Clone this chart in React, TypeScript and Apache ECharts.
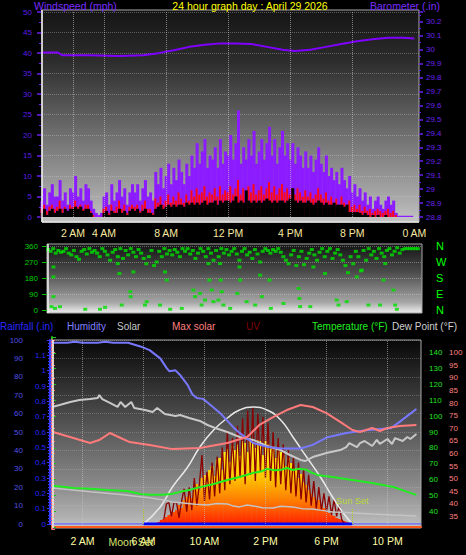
import React, { useEffect, useRef } from 'react';
import * as echarts from 'echarts';

const FONT = '"Liberation Sans", Arial, sans-serif';

// ---- time tick labels ----
const topTimeTicks = [2, 4, 8, 12, 16, 20, 24];
const bottomTimeTicks = [2, 6, 10, 14, 18, 22];

// ---- top panel: wind (mph), one value every 10 minutes from 0:00 ----
const windGust = [
  4, 7, 3, 6, 8, 5, 5, 9, 4, 6, 3, 7, 6, 10, 5, 7, 4, 8, 7, 4, 2, 1, 0.5, 1,
  5, 6, 3, 8, 4, 6, 9, 5, 7, 3, 6, 8, 6, 8, 4, 7, 9, 5, 6, 4, 11, 8, 12, 7,
  10, 13, 8, 12, 9, 14, 11, 8, 13, 10, 15, 12, 18, 13, 16, 19, 12, 15, 14, 17, 12, 19, 13, 16,
  15, 20, 14, 18, 26, 13, 17, 14, 19, 15, 21, 13, 16, 19, 14, 18, 22, 15, 19, 13, 17, 21, 15, 18,
  14, 18, 13, 17, 15, 12, 16, 12, 15, 11, 14, 17, 13, 11, 15, 10, 12, 9, 11, 8, 12, 9, 7, 10,
  6, 8, 5, 7, 4, 6, 3, 5, 2, 4, 5, 3, 2, 4, 5, 3, 4, 1, 0.3, 0.3, 0.3, 0.3, 0.3, 0.3,
];
const windSpeed = [
  2, 3, 1.5, 2.5, 3, 2, 2.5, 4, 2, 2.5, 1.5, 3, 2.5, 4, 2.5, 3, 2, 3, 3, 1.5, 0.5, 0, 0, 0,
  2, 2.5, 1, 3, 1.5, 2.5, 4, 2, 3, 1, 2.5, 3, 2.5, 3, 1.5, 3, 4, 2, 2, 1, 4.5, 3.5, 5, 3,
  4, 5.5, 3.5, 5, 4, 6, 4.5, 3.5, 5.5, 4, 6.5, 5, 7, 5.5, 6, 7.5, 5, 6, 5.5, 7, 5, 7.5, 5.5, 6.5,
  6, 7.5, 5.5, 7, 9, 5.5, 7, 5.5, 7.5, 6, 8, 5.5, 6.5, 7.5, 5.5, 7, 8.5, 6, 7.5, 5.5, 7, 8, 6, 7,
  5.5, 7, 5.5, 7, 6, 5, 6.5, 5, 6, 4.5, 5.5, 7, 5.5, 4.5, 6, 4, 5, 3.5, 4.5, 3, 5, 3.5, 3, 4,
  2.5, 3, 2, 3, 1.5, 2.5, 1.5, 2, 1, 1.5, 2, 1.5, 1, 1.5, 2, 1, 1.5, 0.5, 0, 0, 0, 0, 0, 0,
];
const windAvg = [
  1, 2, 0.5, 1.5, 2, 1, 1.5, 2, 1, 2, 1.5, 2, 2, 2.5, 2, 2.5, 1.5, 2, 2, 1, 0, 0, 0, 0,
  1, 1.5, 0.5, 1.5, 1, 1, 2, 1, 1.5, 0.5, 1.5, 2, 1.5, 2, 1, 1.5, 2, 1, 1, 0.5, 2, 2.5, 3, 2,
  2.5, 3, 2.5, 3, 2.5, 3, 3, 2.5, 3.5, 3, 3.5, 3, 3.5, 3, 3.5, 4, 3, 3.5, 3.5, 4, 3, 4, 3.5, 4,
  4, 3.5, 4, 5, 3.5, 4, 3.5, 6.5, 4, 3.5, 4, 3.5, 4, 3.5, 4, 4.5, 4, 3.5, 4, 3.5, 4, 4, 3.5, 4,
  4.5, 7, 4, 3.5, 4, 3.5, 3.5, 4, 3.5, 3, 3.5, 4, 3.5, 3, 3.5, 3, 3, 3.5, 3, 3, 3, 2.5, 3, 1.2,
  1.2, 1.2, 1.2, 1, 0.5, 1, 0.5, 0, 0.5, 0, 0.5, 0, 0, 0.5, 0, 0, 0, 0, 0, 0, 0, 0, 0, 0,
];
// barometer (in) [hour, value]
const barometer = [
  [0, 29.98], [1, 29.98], [1.3, 29.96], [3, 29.96], [5, 29.955], [6.5, 29.96], [7.5, 29.975],
  [8.5, 29.995], [9.5, 30.02], [10.5, 30.035], [11.5, 30.045], [12.5, 30.045], [13.5, 30.04],
  [14.5, 30.02], [15.5, 30.0], [16.3, 29.99], [17.3, 30.0], [18.3, 30.02], [19.3, 30.04],
  [20.3, 30.06], [21.3, 30.075], [22.3, 30.085], [23.3, 30.085], [24, 30.08],
];

// ---- middle panel: wind direction (deg), main band every 10 min + scattered readings ----
const windDirBand = [
  340, 330, 345, 320, 335, 325, 330, 345, 320, 310, 335, 300, 285, 330, 340, 315, 345, 325,
  335, 320, 300, 345, 330, 310, 280, 325, 340, 300, 345, 290, 335, 310, 345, 325, 300, 340,
  320, 290, 260, 300, 335, 250, 270, 330, 300, 345, 315, 335, 310, 340, 325, 300, 345, 330,
  345, 315, 335, 290, 320, 345, 330, 300, 345, 320, 280, 335, 300, 345, 320, 340, 310, 330,
  345, 315, 280, 330, 345, 310, 325, 290, 340, 315, 270, 330, 345, 335, 320, 340, 330, 345,
  325, 300, 280, 260, 310, 335, 250, 300, 330, 255, 290, 320, 340, 310, 280, 325, 345, 300,
  330, 345, 290, 320, 340, 310, 280, 250, 210, 300, 260, 330, 300, 220, 335, 280, 345, 310,
  330, 290, 345, 320, 300, 335, 345, 310, 330, 350, 320, 340, 345, 345, 345, 345, 345, 345,
];
const windDirScatter = [
  [0.23, 19], [0.35, 75], [0.35, 186], [0.35, 242], [0.45, 9], [0.77, 19], [2.4, 4], [3.35, 4],
  [3.68, 15], [4.5, 261], [4.6, 205], [4.75, 28], [5.3, 103], [5.33, 75], [5.5, 214], [6.25, 28],
  [6.36, 47], [7.22, 28], [7.54, 214], [7.65, 168], [7.87, 4], [8.62, 9], [9.37, 112], [9.48, 75],
  [9.8, 93], [9.9, 28], [10.12, 56], [10.34, 261], [10.4, 168], [10.55, 112], [10.66, 47],
  [10.98, 56], [11.09, 261], [11.13, 168], [11.2, 103], [11.3, 28], [11.74, 9], [12.2, 93],
  [12.34, 242], [12.38, 168], [12.8, 47], [13.35, 28], [13.67, 196], [13.78, 75], [14.27, 168],
  [14.36, 9], [15.17, 37], [16.15, 121], [16.2, 65], [16.25, 19], [16.9, 19], [17.1, 242],
  [17.85, 205], [18.6, 56], [18.72, 28], [19.25, 47], [19.9, 186], [20.22, 224], [20.65, 28],
  [21.4, 28], [21.62, 168], [21.73, 261], [22.26, 112], [22.37, 28], [22.48, 4],
];

// ---- bottom panel ----
const humidity = [
  [0, 98.5], [1, 98.5], [1.5, 99], [2, 98.5], [3, 98.5], [3.5, 99], [4, 98.5], [5, 98.5], [5.2, 98],
  [5.8, 96.5], [6.4, 94.5], [7.1, 90], [7.5, 85], [7.7, 83], [8.1, 83.5], [8.4, 81], [8.9, 75.5],
  [9.2, 70.5], [9.5, 68.5], [9.9, 68], [10.2, 66], [11.0, 60.5], [11.9, 52.5], [12.3, 49.5],
  [13.2, 44], [14.1, 42], [15.0, 41], [16.3, 41], [17.1, 43], [18.0, 47], [19.3, 49.5],
  [20.6, 51], [22.2, 52], [22.8, 55.5], [23.5, 60], [23.9, 62.5],
];
const indoorHumidity = [
  [0, 63.6], [0.5, 64.7], [1.2, 66.3], [1.8, 67.4], [2.5, 67.9], [3.0, 68.5], [3.1, 70.1], [3.3, 67.9],
  [3.8, 65.8], [4.3, 63.6], [4.5, 66.3], [4.8, 63.6], [5.2, 66.3], [5.4, 63], [6.1, 62], [6.6, 60.9],
  [6.9, 63], [7.4, 59.8], [8.1, 58.7], [8.4, 59.2], [9.0, 57.6], [9.7, 56], [10.2, 53.8], [10.7, 52.2],
  [11.5, 50], [12.3, 47.3], [13.2, 45.7], [14.1, 42.4], [15.0, 40.2], [15.6, 37.5], [16.3, 34.8],
  [16.6, 34.2], [17.1, 36.4], [18.0, 38.6], [18.9, 40.2], [19.3, 41.8], [19.5, 44], [20.0, 41.8],
  [20.2, 44], [20.5, 45.1], [21.0, 42.4], [21.3, 45.7], [21.5, 43.5], [22.0, 46.2], [22.3, 43.5],
  [22.5, 46.7], [23.0, 45.1], [23.3, 47.3], [23.5, 46.2], [23.9, 48.9],
];
const indoorTemp = [
  [0.07, 68.5], [1.4, 66.1], [2.5, 64.1], [3.1, 65.3], [3.8, 68.1], [4.5, 66.1], [5.1, 64.5],
  [6.4, 63.3], [7.9, 61.7], [9.7, 62.1], [11.5, 64.1], [12.8, 66.5], [13.6, 71.3], [14.5, 74.4],
  [15.4, 77.2], [16.3, 79.2], [17.1, 78.4], [18.0, 76.0], [18.9, 72.5], [19.7, 69.3], [20.2, 68.5],
  [21.0, 70.1], [21.5, 68.9], [22.0, 70.1], [22.8, 70.9], [23.9, 71.3],
];
const temperature = [
  [0, 56.0], [0.7, 55.4], [1.4, 54.7], [2.5, 54.1], [3.6, 53.4], [4.9, 52.8], [5.8, 50.9], [6.4, 50.3],
  [7.3, 50.3], [7.9, 51.0], [8.4, 52.2], [9.0, 53.4], [9.5, 54.7], [10.1, 56.0], [10.6, 57.2],
  [11.1, 58.6], [11.5, 59.7], [12.3, 61.6], [12.8, 63.0], [13.2, 64.2], [13.7, 65.0], [14.1, 66.7],
  [14.6, 65.8], [15.0, 66.1], [15.4, 67.3], [15.8, 66.0], [16.2, 66.8], [16.7, 66.1], [17.0, 64.5],
  [17.4, 62.9], [18.4, 61.6], [19.7, 59.7], [21.0, 57.8], [22.4, 55.3], [23.3, 52.2], [23.9, 50.3],
];
const dewPoint = [
  [0, 54.7], [1.2, 53.5], [2.5, 52.2], [3.6, 51.3], [4.7, 50.3], [5.6, 49.3], [6.4, 48.4], [7.2, 47.2],
  [7.9, 45.8], [8.6, 45.1], [9.4, 44.3], [10.2, 43.9], [10.8, 44.9], [11.5, 44.6], [11.9, 43.2],
  [12.3, 42.7], [12.8, 43.9], [13.2, 43.3], [13.8, 42.2], [14.5, 42.0], [15.0, 43.1], [15.8, 42.7],
  [16.4, 41.6], [17.1, 41.4], [17.7, 40.5], [18.4, 39.5], [19.0, 39.3], [19.7, 38.9], [21.0, 38.2],
  [22.4, 37.6], [23.9, 37.0],
];
const maxSolar = [
  [6.0, 0], [7.1, 139], [7.9, 302], [8.9, 465], [9.7, 628], [10.6, 766], [11.5, 864], [12.3, 929],
  [13.2, 954], [14.1, 929], [15.0, 848], [15.8, 709], [16.7, 546], [17.6, 383], [18.4, 220],
  [19.1, 90], [19.7, 0],
];
// solar (W/m2) every 10 min from 7:00
const solarStart = 7;
const solar = [
  16, 33, 41, 57, 73, 81, 98, 114, 155, 130, 196, 220, 253, 212, 293, 326, 277, 375,
  399, 342, 440, 473, 391, 522, 538, 440, 587, 611, 505, 636, 603, 652, 554, 676, 660, 587,
  685, 668, 619, 685, 676, 562, 676, 652, 611, 636, 538, 619, 587, 562, 473, 538, 497, 440,
  456, 375, 408, 342, 318, 277, 245, 220, 179, 196, 147, 130, 106, 90, 73, 65, 49, 41,
  33, 24, 16,
];
// UV index every 10 min from 7:20
const uvStart = 7 + 20 / 60;
const uv = [
  0.3, 1.3, 1.4, 0.5, 1.4, 1.4, 0.4, 1.5, 2.3, 0.8, 2.4, 0.9, 3.0, 1.2, 2.6, 4.5,
  1.5, 3.4, 1.6, 4.0, 1.8, 4.4, 2.0, 5.0, 2.2, 6.1, 2.6, 5.6, 2.8, 6.4, 3.0, 6.9, 2.6, 7.4,
  3.2, 7.6, 2.8, 7.2, 3.4, 7.0, 3.0, 6.6, 2.8, 6.0, 2.4, 5.6, 2.6, 5.2, 2.2, 4.8, 2.0, 4.4,
  1.8, 4.0, 1.6, 3.6, 1.4, 3.2, 1.2, 2.8, 1.0, 2.4, 0.9, 2.0, 0.8, 1.8, 0.6, 1.6, 0.5, 1.2,
  0.3, 0,
];
const rainfall = [[0, 0], [24.2, 0]];
const sunrise = 6.0;
const sunset = 19.7;

const hourLabel = (h: number) => {
  const hh = ((Math.round(h) % 24) + 24) % 24;
  const suffix = hh < 12 ? 'AM' : 'PM';
  const d = hh === 12 ? 12 : hh % 12;
  return d + ' ' + suffix;
};
const fmt1 = (v: number) => String(Number(v.toFixed(1)));

const grad = (stops: [number, string][]) => ({
  type: 'linear', x: 0, y: 0, x2: 0, y2: 1,
  colorStops: stops.map(([offset, color]) => ({ offset, color })),
});

const txt = (text: string, x: number, y: number, fill: string, size: number, align = 'left') => ({
  type: 'text', x, y, z: 100, silent: true,
  style: { text, fill, fontSize: size, fontFamily: FONT, textAlign: align, verticalAlign: 'middle' },
});

export default function App() {
  const ref = useRef<HTMLDivElement>(null);
  useEffect(() => {
    document.body.style.margin = '0';
    document.body.style.background = '#000';
    const chart = echarts.init(ref.current!, null, { renderer: 'svg' });

    const timeAxis = (gridIndex: number, max: number, ticks: number[] | null, color = '', margin = 0) => ({
      type: 'value', gridIndex, min: 0, max, interval: 2,
      axisLine: { show: false }, axisTick: { show: false }, splitLine: { show: false },
      axisLabel: ticks
        ? { show: true, color, fontSize: 10.5, fontFamily: FONT, margin,
            formatter: (v: number) => (ticks.includes(v) ? hourLabel(v) : '') }
        : { show: false },
    });

    const dotted = (c: string) => ({ show: true, lineStyle: { color: c, type: 'dotted', width: 1 } });

    const option: any = {
      animation: false,
      backgroundColor: '#000',
      textStyle: { fontFamily: FONT },
      grid: [
        { left: 42, top: 12, width: 377, height: 205 },
        { left: 48, top: 246, width: 374, height: 64 },
        { left: 52, top: 340, width: 369, height: 184 },
        { left: 52, top: 337, width: 369, height: 190 },
        { left: 52, top: 340, width: 369, height: 189 },
      ],
      xAxis: [
        timeAxis(0, 24.3, topTimeTicks, '#f8e8a0', 10),
        timeAxis(1, 24.1, null),
        timeAxis(2, 24.2, null),
        { ...timeAxis(3, 24.2, bottomTimeTicks, '#ffffa8', 8),
          axisLine: { show: true, lineStyle: { color: '#ff5a1e', width: 2 } } },
        timeAxis(4, 24.2, null),
      ],
      yAxis: [
        { type: 'value', gridIndex: 0, position: 'left', min: 0, max: 50, interval: 5,
          axisLine: { show: false },
          axisTick: { show: true, length: 5, lineStyle: { color: '#6a20f0', width: 1.5 } },
          minorTick: { show: true, splitNumber: 2, length: 3, lineStyle: { color: '#6a20f0' } },
          axisLabel: { color: '#5a1ee8', fontSize: 8, margin: 10 },
          splitLine: dotted('rgba(215,215,215,0.35)') },
        { type: 'value', gridIndex: 0, position: 'right', min: 28.8, max: 30.27, interval: 0.1,
          axisLine: { show: false },
          axisTick: { show: true, length: 4, lineStyle: { color: '#6a20f0', width: 1.5 } },
          minorTick: { show: true, splitNumber: 2, length: 2, lineStyle: { color: '#6a20f0' } },
          axisLabel: { color: '#6a20f0', fontSize: 8, margin: 7,
            formatter: (v: number) => (v > 30.21 ? '' : fmt1(v)) },
          splitLine: { show: false } },
        { type: 'value', gridIndex: 1, position: 'left', min: 0, max: 360, interval: 90,
          axisLine: { show: false },
          axisTick: { show: true, length: 6, lineStyle: { color: '#00c000' } },
          axisLabel: { color: '#00d000', fontSize: 8, margin: 10 },
          splitLine: dotted('rgba(220,220,220,0.4)') },
        { type: 'value', gridIndex: 1, position: 'right', min: 0, max: 360, interval: 90,
          axisLine: { show: false }, axisTick: { show: false }, splitLine: { show: false },
          axisLabel: { color: '#00ff00', fontSize: 11, margin: 14,
            formatter: (v: number) => (({ 0: 'N', 90: 'E', 180: 'S', 270: 'W', 360: 'N' } as any)[v] || '') } },
        { type: 'value', gridIndex: 2, position: 'left', offset: 22, min: 0, max: 100, interval: 10,
          axisLine: { show: true, lineStyle: { color: '#6464ff', width: 2 } },
          axisTick: { show: true, length: 4, lineStyle: { color: '#6464ff' } },
          minorTick: { show: true, splitNumber: 5, length: 2, lineStyle: { color: '#6464ff' } },
          axisLabel: { color: '#5050e8', fontSize: 8, margin: 7 },
          splitLine: dotted('rgba(200,200,200,0.3)') },
        { type: 'value', gridIndex: 2, position: 'left', offset: 2, min: 0, max: 1.2, interval: 0.1,
          axisLine: { show: true, lineStyle: { color: '#3a3aff', width: 2 } },
          axisTick: { show: true, length: 3, lineStyle: { color: '#3a3aff' } },
          minorTick: { show: true, splitNumber: 5, length: 2, lineStyle: { color: '#3a3aff' } },
          axisLabel: { color: '#2828ff', fontSize: 8, margin: 4,
            formatter: (v: number) => (v > 1.15 ? '' : fmt1(v)) },
          splitLine: { show: false } },
        { type: 'value', gridIndex: 2, min: 0, max: 1500, show: false },
        { type: 'value', gridIndex: 2, min: 0, max: 12, show: false },
        { type: 'value', gridIndex: 3, position: 'right', offset: 1, min: 30, max: 150, interval: 10,
          axisLine: { show: true, lineStyle: { color: '#20c020', width: 2 } },
          axisTick: { show: true, length: 4, lineStyle: { color: '#20c020' } },
          minorTick: { show: true, splitNumber: 5, length: 2, lineStyle: { color: '#20c020' } },
          axisLabel: { color: '#20e020', fontSize: 8, margin: 7,
            formatter: (v: number) => (v === 30 || v === 150 ? '' : String(v)) },
          splitLine: { show: false } },
        { type: 'value', gridIndex: 4, position: 'right', offset: 22, min: 30, max: 105, interval: 5,
          axisLine: { show: true, lineStyle: { color: '#ff7070', width: 2 } },
          axisTick: { show: true, length: 3, lineStyle: { color: '#ff7070' } },
          minorTick: { show: true, splitNumber: 5, length: 2, lineStyle: { color: '#ff7070' } },
          axisLabel: { color: '#ff8080', fontSize: 8, margin: 6,
            formatter: (v: number) => (v === 30 || v === 105 ? '' : String(v)) },
          splitLine: { show: false } },
      ],
      series: [
        { name: 'Wind gust', type: 'bar', xAxisIndex: 0, yAxisIndex: 0, barWidth: 3, barGap: '-100%',
          data: windGust.map((v, i) => [i / 6, v]), itemStyle: { color: '#8c1cff' },
          markLine: { silent: true, symbol: 'none', label: { show: false },
            lineStyle: { color: 'rgba(210,210,210,0.55)', type: 'dotted', width: 1 },
            data: [2, 4, 8, 12, 16, 20].map((v) => ({ xAxis: v })) } },
        { name: 'Wind speed', type: 'bar', xAxisIndex: 0, yAxisIndex: 0, barWidth: 2, barGap: '-100%',
          data: windSpeed.map((v, i) => [i / 6, v]), itemStyle: { color: '#ff0814' } },
        { name: 'Wind average', type: 'bar', xAxisIndex: 0, yAxisIndex: 0, barWidth: 3, barGap: '-100%',
          data: windAvg.map((v, i) => [i / 6, v]), itemStyle: { color: '#000000' } },
        { name: 'Barometer', type: 'line', xAxisIndex: 0, yAxisIndex: 1, data: barometer,
          symbol: 'none', lineStyle: { color: '#8000ff', width: 2 } },
        { name: 'Wind direction', type: 'scatter', xAxisIndex: 1, yAxisIndex: 2,
          data: windDirBand.map((d, i) => [i / 6, d]).concat(windDirScatter),
          symbol: 'rect', symbolSize: [4, 3], itemStyle: { color: '#00e000' } },
        { name: 'Solar', type: 'bar', xAxisIndex: 2, yAxisIndex: 6, barWidth: 3, barGap: '-100%',
          data: solar.map((v, i) => [solarStart + i / 6, v]),
          itemStyle: { color: { type: 'linear', x: 0, y: 440, x2: 0, y2: 524, global: true,
            colorStops: [{ offset: 0, color: '#ffff20' }, { offset: 0.45, color: '#ffc400' },
              { offset: 0.75, color: '#ff7400' }, { offset: 1, color: '#ff2000' }] } } },
        { name: 'UV', type: 'line', xAxisIndex: 2, yAxisIndex: 7,
          data: uv.map((v, i) => [uvStart + i / 6, v]), symbol: 'none',
          lineStyle: { color: '#8b0000', width: 1.3 } },
        { name: 'Max solar', type: 'line', xAxisIndex: 2, yAxisIndex: 6, data: maxSolar, smooth: true,
          symbol: 'none', lineStyle: { color: '#e8e8e8', width: 1.5 } },
        { name: 'Indoor humidity', type: 'line', xAxisIndex: 2, yAxisIndex: 4, data: indoorHumidity,
          symbol: 'none', lineStyle: { color: '#c8c8c8', width: 2 } },
        { name: 'Humidity', type: 'line', xAxisIndex: 2, yAxisIndex: 4, data: humidity,
          symbol: 'none', lineStyle: { color: '#7878ff', width: 2 },
          markLine: { silent: true, symbol: 'none', label: { show: false },
            lineStyle: { color: 'rgba(200,200,200,0.55)', type: 'dotted', width: 1 },
            data: bottomTimeTicks.map((v) => ({ xAxis: v })) } },
        { name: 'Rainfall', type: 'line', xAxisIndex: 2, yAxisIndex: 5, data: rainfall,
          symbol: 'none', lineStyle: { color: '#6a6aff', width: 1.5 },
          markLine: { silent: true, symbol: 'none', label: { show: false },
            lineStyle: { color: '#b0d020', type: 'dotted', width: 1 },
            data: [[{ coord: [sunrise, 0] }, { coord: [sunrise, 0.105] }]] } },
        { name: 'Daylight', type: 'line', xAxisIndex: 2, yAxisIndex: 5, data: [[sunrise, 0], [sunset, 0]],
          symbol: 'none', lineStyle: { color: '#0000ff', width: 3 },
          markLine: { silent: true, symbol: 'none',
            label: { show: true, position: 'end', formatter: 'Sun Set', color: '#b8d838', fontSize: 9, distance: 2 },
            lineStyle: { color: '#b0d020', type: 'dotted', width: 1 },
            data: [[{ coord: [sunset, 0] }, { coord: [sunset, 0.105] }]] } },
        { name: 'Indoor temperature', type: 'line', xAxisIndex: 4, yAxisIndex: 9, data: indoorTemp,
          symbol: 'none', lineStyle: { color: '#ff7a7a', width: 2 } },
        { name: 'Dew Point', type: 'line', xAxisIndex: 3, yAxisIndex: 8, data: dewPoint,
          symbol: 'none', lineStyle: { color: '#c4c4c4', width: 1.5 } },
        { name: 'Temperature', type: 'line', xAxisIndex: 3, yAxisIndex: 8, data: temperature,
          symbol: 'none', lineStyle: { color: '#20ee20', width: 2 } },
      ],
      graphic: [
        { type: 'rect', z: -10, silent: true, shape: { x: 42, y: 10, width: 377, height: 212 },
          style: { fill: grad([[0, '#141414'], [0.25, '#2e2e2e'], [0.45, '#555555'], [0.7, '#858585'], [0.92, '#b0b0b0'], [1, '#c4c4c4']]),
            stroke: '#a8a8a8', lineWidth: 1 } },
        { type: 'line', z: 50, silent: true, shape: { x1: 42, y1: 10, x2: 42, y2: 222 }, style: { stroke: '#f0f0f0', lineWidth: 1.5 } },
        { type: 'line', z: 50, silent: true, shape: { x1: 42, y1: 222, x2: 419, y2: 222 }, style: { stroke: '#e8e8e8', lineWidth: 1.5 } },
        { type: 'rect', z: -10, silent: true, shape: { x: 47, y: 244, width: 375, height: 69 },
          style: { fill: grad([[0, '#141414'], [0.4, '#4a4a4a'], [0.85, '#a8a8a8'], [0.95, '#d8d8d8'], [1, '#e8e8e8']]),
            stroke: '#a8a8a8', lineWidth: 1 } },
        { type: 'line', z: 50, silent: true, shape: { x1: 48, y1: 244, x2: 48, y2: 313 }, style: { stroke: '#f0f0f0', lineWidth: 1.5 } },
        { type: 'rect', z: -10, silent: true, shape: { x: 53, y: 340, width: 368, height: 188 },
          style: { fill: grad([[0, '#080808'], [0.43, '#505050'], [0.76, '#888888'], [0.94, '#b0b0b0'], [1, '#c4c4c4']]),
            stroke: '#a8a8a8', lineWidth: 1 } },
        { type: 'line', z: 50, silent: true, shape: { x1: 53, y1: 340, x2: 53, y2: 528 }, style: { stroke: '#f0f0f0', lineWidth: 1.5 } },
        txt('Windspeed (mph)', 34, 5.5, '#7a2cff', 10.5),
        txt('24 hour graph day : April 29 2026', 250, 5.5, '#ffff00', 10.5, 'center'),
        txt('Barometer (.in)', 440, 5.5, '#7a2cff', 10.5, 'right'),
        txt('Rainfall (.in)', 0, 326, '#2828ff', 10),
        txt('Humidity', 67, 326, '#8080ff', 10),
        txt('Solar', 117, 326, '#c8c8c8', 10),
        txt('Max solar', 172, 326, '#ff8080', 10),
        txt('UV', 246, 326, '#800000', 10),
        txt('Temperature (°F)', 312, 326, '#20ee20', 10),
        txt('Dew Point (°F)', 392, 326, '#d0d0d0', 10),
        txt('Moon Set', 131, 541.5, '#d8e070', 10.5, 'center'),
      ],
    };
    chart.setOption(option);
    return () => chart.dispose();
  }, []);
  return <div ref={ref} style={{ width: 466, height: 555 }} />;
}
